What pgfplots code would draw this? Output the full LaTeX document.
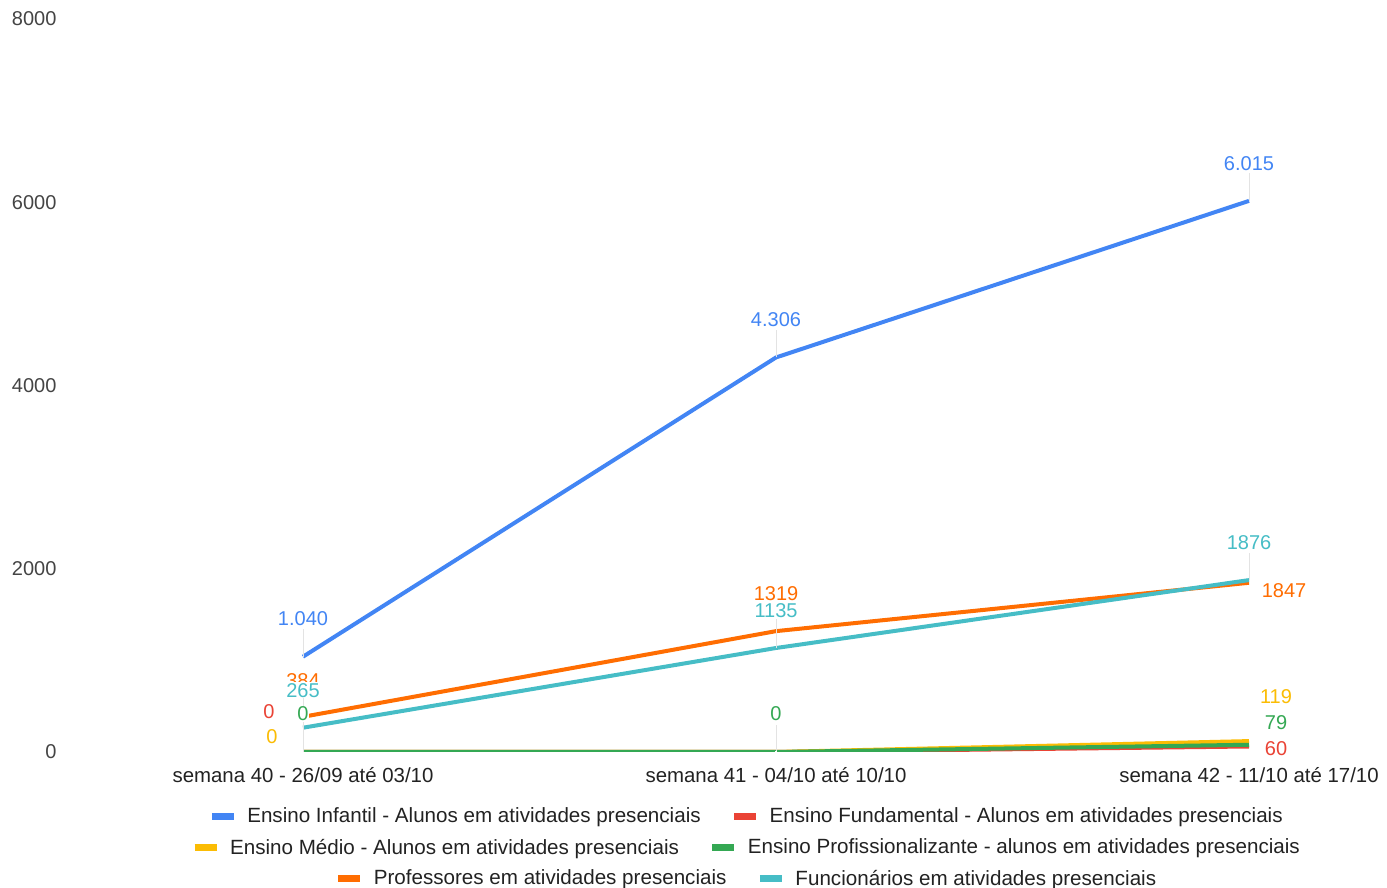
\documentclass[border=0pt]{standalone}
\usepackage{fontspec}
\setmainfont{Liberation Sans}
\usepackage{pgfplots}
\pgfplotsset{compat=1.18}
\usepackage{pgfplotstable}

\definecolor{cblue}{HTML}{4285F4}
\definecolor{cred}{HTML}{EA4335}
\definecolor{cyellow}{HTML}{FBBC04}
\definecolor{cgreen}{HTML}{34A853}
\definecolor{corange}{HTML}{FF6D01}
\definecolor{ccyan}{HTML}{46BDC6}
\definecolor{ticktext}{HTML}{444444}
\definecolor{legtext}{HTML}{222222}
\definecolor{stem}{HTML}{E3E3E3}

% x: week index, y: value, label: annotation, dx/dy: label offset (pt), ey: stem length
\pgfplotstableread{
x y label dx dy ey
0 1040 1.040 0 18.8 300
1 4306 4.306 0 18.8 300
2 6015 6.015 0 18.8 300
}\infantil
\pgfplotstableread{
x y label dx dy ey
0 0 0 -17 20 0
1 0 {} 0 0 0
2 60 60 13.5 -1.3 0
}\fundamental
\pgfplotstableread{
x y label dx dy ey
0 0 0 -15.5 7.5 0
1 0 {} 0 0 0
2 119 119 13.5 22 0
}\medio
\pgfplotstableread{
x y label dx dy ey
0 0 0 0 19 300
1 0 0 0 19 300
2 79 79 13.5 10.9 0
}\profissional
\pgfplotstableread{
x y label dx dy ey
0 384 384 0 17.9 300
1 1319 1319 0 19 300
2 1847 1847 17.5 -4.1 0
}\professores
\pgfplotstableread{
x y label dx dy ey
0 265 265 0 18.8 300
1 1135 1135 0 18.5 300
2 1876 1876 0 18.5 300
}\funcionarios

\pgfplotsset{
  frame/.style={
    scale only axis, width=709.5pt, height=366.5pt,
    at={(0pt,0pt)}, anchor=south west,
    xmin=-0.5, xmax=2.5, ymin=0, ymax=8000,
  },
  serie/.style={draw=#1, line width=2pt, line join=round, mark=none},
  annot/.style={
    draw=none, mark=none,
    nodes near coords, point meta=explicit symbolic,
    visualization depends on={\thisrow{dx}\as\mydx},
    visualization depends on={\thisrow{dy}\as\mydy},
    every node near coord/.append style={text=#1, anchor=center, fill=white,
      xshift=\mydx pt, yshift=\mydy pt, inner sep=0.4pt, font=\fontsize{10}{12}\selectfont},
    error bars/.cd, y dir=plus, y explicit, error mark=none,
    error bar style={draw=stem, line width=0.5pt}
  },
  legrow/.style={
    hide axis, scale only axis, width=1pt, height=1pt,
    xmin=0, xmax=1, ymin=0, ymax=1, anchor=center,
    legend columns=2,
    legend style={at={(0.5,0.5)}, anchor=center, draw=none, fill=none,
      font=\fontsize{10.3}{12}\selectfont, text=legtext,
      nodes={inner sep=1.5pt},
      /tikz/every odd column/.append style={column sep=3.5pt},
      /tikz/every even column/.append style={column sep=13.5pt},
      legend image code/.code={\draw[##1] (0pt,0pt) -- (11pt,0pt);}}
  }
}

\begin{document}
\begin{tikzpicture}
\path[use as bounding box] (-33.25pt,-68pt) rectangle (660.25pt,376pt);
% series lines, clipped to the plot area
\begin{axis}[
  frame,
  axis line style={draw=none}, major tick length=0pt,
  xtick={0,1,2},
  xticklabels={semana 40 - 26/09 até 03/10, semana 41 - 04/10 até 10/10, semana 42 - 11/10 até 17/10},
  ytick={0,2000,4000,6000,8000},
  scaled y ticks=false,
  /pgf/number format/assume math mode=true,
  /pgf/number format/1000 sep={},
  xticklabel style={anchor=base, yshift=-15.5pt, text=legtext, font=\fontsize{10.2}{12}\selectfont},
  yticklabel style={anchor=east, xshift=-1.5pt, text=ticktext, font=\fontsize{10}{12}\selectfont},
]
\addplot[serie=cblue] table[x=x, y=y] {\infantil};
\addplot[serie=cred] table[x=x, y=y] {\fundamental};
\addplot[serie=cyellow] table[x=x, y=y] {\medio};
\addplot[serie=cgreen] table[x=x, y=y] {\profissional};
\addplot[serie=corange] table[x=x, y=y] {\professores};
\addplot[serie=ccyan] table[x=x, y=y] {\funcionarios};
\end{axis}

% value annotations on top of all lines
\begin{axis}[frame, hide axis, clip=false]
\addplot[annot=cblue] table[x=x, y=y, meta=label, y error=ey] {\infantil};
\addplot[annot=cred] table[x=x, y=y, meta=label, y error=ey] {\fundamental};
\addplot[annot=cyellow] table[x=x, y=y, meta=label, y error=ey] {\medio};
\addplot[annot=cgreen] table[x=x, y=y, meta=label, y error=ey] {\profissional};
\addplot[annot=corange] table[x=x, y=y, meta=label, y error=ey] {\professores};
\addplot[annot=ccyan] table[x=x, y=y, meta=label, y error=ey] {\funcionarios};
\end{axis}

% legend, one centred row per axis
\begin{axis}[legrow, at={(340.25pt,-32.5pt)}]
\addlegendimage{draw=cblue, line width=3.5pt}
\addlegendentry{Ensino Infantil - Alunos em atividades presenciais}
\addlegendimage{draw=cred, line width=3.5pt}
\addlegendentry{Ensino Fundamental - Alunos em atividades presenciais}
\end{axis}
\begin{axis}[legrow, at={(340.25pt,-48pt)}]
\addlegendimage{draw=cyellow, line width=3.5pt}
\addlegendentry{Ensino Médio - Alunos em atividades presenciais}
\addlegendimage{draw=cgreen, line width=3.5pt}
\addlegendentry{Ensino Profissionalizante - alunos em atividades presenciais}
\end{axis}
\begin{axis}[legrow, at={(340.25pt,-63.5pt)}]
\addlegendimage{draw=corange, line width=3.5pt}
\addlegendentry{Professores em atividades presenciais}
\addlegendimage{draw=ccyan, line width=3.5pt}
\addlegendentry{Funcionários em atividades presenciais}
\end{axis}
\end{tikzpicture}
\end{document}
